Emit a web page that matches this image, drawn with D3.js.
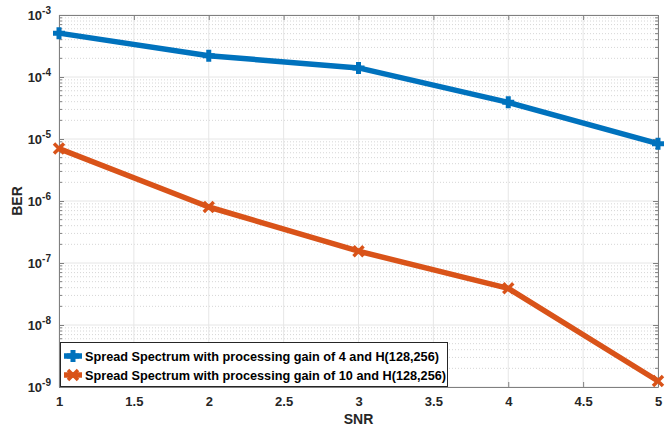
<!DOCTYPE html>
<html><head><meta charset="utf-8">
<script src="https://cdn.jsdelivr.net/npm/d3@7"></script>
<style>body{margin:0;background:#fff}svg{display:block}text{font-family:"Liberation Sans",Helvetica,Arial,sans-serif}</style>
</head><body><div id="c"></div>
<script>
const snr = [1, 2, 3, 4, 5];
const berGain4 = [5.1e-4, 2.2e-4, 1.4e-4, 3.9e-5, 8.4e-6];
const berGain10 = [7.0e-6, 8.0e-7, 1.55e-7, 3.9e-8, 1.25e-9];
const seriesNames = ["Spread Spectrum with processing gain of 4 and H(128,256)",
                     "Spread Spectrum with processing gain of 10 and H(128,256)"];
const xTicks = [1, 1.5, 2, 2.5, 3, 3.5, 4, 4.5, 5];
const yExponents = [-9, -8, -7, -6, -5, -4, -3];

const W = 669, H = 427;
const m = {l: 59, r: 11, t: 15, b: 40};
const svg = d3.select("#c").append("svg").attr("width", W).attr("height", H);
const x = d3.scaleLinear().domain([1, 5]).range([m.l, W - m.r]);
const y = d3.scaleLog().domain([1e-9, 1e-3]).range([H - m.b, m.t]);

const g = svg.append("g");
// minor grid
const minor = [];
for (let e = -9; e < -3; e++) for (let k = 2; k <= 9; k++) minor.push(k * Math.pow(10, e));
g.selectAll(".mg").data(minor).enter().append("line")
  .attr("x1", m.l).attr("x2", W - m.r).attr("y1", d => y(d)).attr("y2", d => y(d))
  .attr("stroke", "#d6d6d6").attr("stroke-width", 1).attr("stroke-dasharray", "1,2");
// major grid
g.selectAll(".gy").data(yExponents.map(e => Math.pow(10, e))).enter().append("line")
  .attr("x1", m.l).attr("x2", W - m.r).attr("y1", d => y(d)).attr("y2", d => y(d))
  .attr("stroke", "#e6e6e6").attr("stroke-width", 1);
g.selectAll(".gx").data(xTicks).enter().append("line")
  .attr("y1", m.t).attr("y2", H - m.b).attr("x1", d => x(d)).attr("x2", d => x(d))
  .attr("stroke", "#e6e6e6").attr("stroke-width", 1);

// axes
const axCol = "#808080";
const xb = svg.append("g").attr("transform", `translate(0,${H - m.b})`)
  .call(d3.axisBottom(x).tickValues(xTicks).tickSize(-5).tickSizeOuter(0).tickFormat(d3.format("")));
const xt = svg.append("g").attr("transform", `translate(0,${m.t})`)
  .call(d3.axisTop(x).tickValues(xTicks).tickSize(-5).tickSizeOuter(0).tickFormat(""));
const yl = svg.append("g").attr("transform", `translate(${m.l},0)`)
  .call(d3.axisLeft(y).tickValues(yExponents.map(e => Math.pow(10, e))).tickSize(-5).tickSizeOuter(0).tickFormat(""));
const yr = svg.append("g").attr("transform", `translate(${W - m.r},0)`)
  .call(d3.axisRight(y).tickValues(yExponents.map(e => Math.pow(10, e))).tickSize(-5).tickSizeOuter(0).tickFormat(""));
// minor ticks
[[m.l, 1], [W - m.r, -1]].forEach(([px, dir]) => {
  svg.selectAll(null).data(minor).enter().append("line")
    .attr("x1", px).attr("x2", px + dir * 3).attr("y1", d => y(d)).attr("y2", d => y(d))
    .attr("stroke", axCol);
});
[xb, xt, yl, yr].forEach(a => {
  a.select(".domain").attr("stroke", axCol);
  a.selectAll(".tick line").attr("stroke", axCol);
});
xb.selectAll(".tick text").attr("font-size", 13).attr("font-weight", "bold").attr("fill", "#262626").attr("dy", "0.85em")
  .attr("y", 8);

// y tick labels with superscript
const ylab = svg.append("g");
yExponents.forEach(e => {
  const t = ylab.append("text").attr("x", 51).attr("y", y(Math.pow(10, e)) + 5)
    .attr("text-anchor", "end").attr("font-size", 13).attr("font-weight", "bold").attr("fill", "#262626");
  t.append("tspan").text("10");
  t.append("tspan").attr("dy", -6).attr("font-size", 10).text(String(e));
});

// labels
svg.append("text").attr("x", x(3)).attr("y", 424).attr("text-anchor", "middle")
  .attr("font-size", 14).attr("font-weight", "bold").attr("fill", "#262626").text("SNR");
svg.append("text").attr("transform", `translate(22,${y(1e-6)}) rotate(-90)`).attr("text-anchor", "middle")
  .attr("font-size", 14).attr("font-weight", "bold").attr("fill", "#262626").text("BER");

// lines
const colors = ["#0072BD", "#D95319"];
const data = [berGain4, berGain10];
const line = d3.line().x((d, i) => x(snr[i])).y(d => y(d));
data.forEach((s, k) => {
  svg.append("path").datum(s).attr("d", line).attr("fill", "none")
    .attr("stroke", colors[k]).attr("stroke-width", 5.5).attr("stroke-linejoin", "round");
});
function plusMarker(sel, cx, cy, c) {
  sel.append("path").attr("d", `M${cx - 6},${cy}H${cx + 6}M${cx},${cy - 6}V${cy + 6}`)
    .attr("stroke", c).attr("stroke-width", 5).attr("fill", "none");
}
function xMarker(sel, cx, cy, c) {
  sel.append("path").attr("d", `M${cx - 5},${cy - 5}L${cx + 5},${cy + 5}M${cx - 5},${cy + 5}L${cx + 5},${cy - 5}`)
    .attr("stroke", c).attr("stroke-width", 3.5).attr("fill", "none");
}
berGain4.forEach((v, i) => plusMarker(svg, x(snr[i]), y(v), colors[0]));
berGain10.forEach((v, i) => xMarker(svg, x(snr[i]), y(v), colors[1]));

// legend
const lg = svg.append("g");
lg.append("rect").attr("x", 60.5).attr("y", 342.5).attr("width", 387).attr("height", 44)
  .attr("fill", "#fff").attr("stroke", "#262626").attr("stroke-width", 1);
seriesNames.forEach((n, k) => {
  const cy = 356 + k * 19;
  lg.append("line").attr("x1", 64).attr("x2", 82).attr("y1", cy).attr("y2", cy)
    .attr("stroke", colors[k]).attr("stroke-width", 5.5);
  if (k === 0) plusMarker(lg, 73, cy, colors[0]); else xMarker(lg, 73, cy, colors[1]);
  lg.append("text").attr("x", 85).attr("y", cy + 4.5).attr("font-size", 12.7).attr("font-weight", "bold")
    .attr("fill", "#000").text(n);
});
</script></body></html>
